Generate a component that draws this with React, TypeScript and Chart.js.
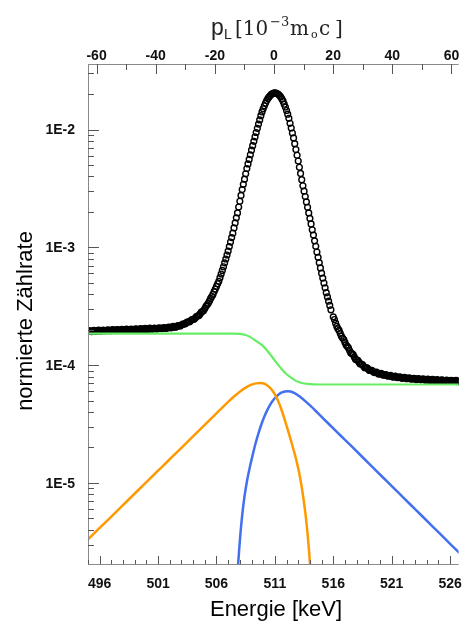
import React, { useEffect, useRef } from "react";
import { Chart, registerables } from "chart.js";

Chart.register(...registerables);

// ---- measured spectrum (black circles) ----
const dataEnergy = [
  495.0, 495.2, 495.4, 495.6, 495.8, 496.0, 496.2, 496.4, 496.6, 496.8,
  497.0, 497.2, 497.4, 497.6, 497.8, 498.0, 498.2, 498.4, 498.6, 498.8,
  499.0, 499.2, 499.4, 499.6, 499.8, 500.0, 500.2, 500.4, 500.6, 500.8,
  501.0, 501.2, 501.4, 501.6, 501.8, 502.0, 502.2, 502.4, 502.6, 502.8,
  503.0, 503.2, 503.4, 503.6, 503.8, 504.0, 504.2, 504.4, 504.6, 504.8,
  505.0, 505.2, 505.4, 505.6, 505.8,
  505.9, 506.0, 506.1, 506.2, 506.3, 506.4, 506.5, 506.6, 506.7, 506.8,
  506.9, 507.0, 507.1, 507.2, 507.3, 507.4, 507.5, 507.6, 507.7, 507.8,
  507.9, 508.0, 508.1, 508.2, 508.3, 508.4, 508.5, 508.6, 508.7, 508.8,
  508.9, 509.0, 509.1, 509.2, 509.3, 509.4, 509.5, 509.6, 509.7, 509.8,
  509.9, 510.0, 510.1, 510.2, 510.3, 510.4, 510.5, 510.6, 510.7, 510.8,
  510.9, 511.0, 511.1, 511.2, 511.3, 511.4, 511.5, 511.6, 511.7, 511.8,
  511.9, 512.0, 512.1, 512.2, 512.3, 512.4, 512.5, 512.6, 512.7, 512.8,
  512.9, 513.0, 513.1, 513.2, 513.3, 513.4, 513.5, 513.6, 513.7, 513.8,
  513.9, 514.0, 514.1, 514.2, 514.3, 514.4, 514.5, 514.6, 514.7, 514.8,
  514.9, 515.0, 515.1, 515.2, 515.3, 515.4, 515.5, 515.6, 515.7, 515.8,
  516.0, 516.2, 516.4, 516.6, 516.8, 517.0, 517.2, 517.4, 517.6, 517.8,
  518.0, 518.2, 518.4, 518.6, 518.8, 519.0, 519.2, 519.4, 519.6, 519.8,
  520.0, 520.2, 520.4, 520.6, 520.8, 521.0, 521.2, 521.4, 521.6, 521.8,
  522.0, 522.2, 522.4, 522.6, 522.8, 523.0, 523.2, 523.4, 523.6, 523.8,
  524.0, 524.2, 524.4, 524.6, 524.8, 525.0, 525.2, 525.4, 525.6, 525.8,
  526.0, 526.2, 526.4, 526.6, 526.8, 527.0,
];
const dataRate = [
  1.94e-4, 1.94e-4, 1.95e-4, 1.95e-4, 1.95e-4, 1.96e-4, 1.96e-4, 1.96e-4, 1.97e-4, 1.97e-4,
  1.97e-4, 1.98e-4, 1.98e-4, 1.98e-4, 1.99e-4, 1.99e-4, 1.99e-4, 2.0e-4, 2.0e-4, 2.0e-4,
  2.01e-4, 2.01e-4, 2.01e-4, 2.02e-4, 2.02e-4, 2.03e-4, 2.03e-4, 2.04e-4, 2.04e-4, 2.04e-4,
  2.05e-4, 2.05e-4, 2.06e-4, 2.06e-4, 2.07e-4, 2.09e-4, 2.1e-4, 2.11e-4, 2.13e-4, 2.16e-4,
  2.19e-4, 2.23e-4, 2.28e-4, 2.33e-4, 2.39e-4, 2.45e-4, 2.52e-4, 2.61e-4, 2.72e-4, 2.85e-4,
  3.02e-4, 3.25e-4, 3.51e-4, 3.82e-4, 4.21e-4,
  4.43e-4, 4.66e-4, 4.9e-4, 5.15e-4, 5.53e-4, 5.93e-4, 6.37e-4, 6.84e-4, 7.38e-4, 7.96e-4,
  8.61e-4, 9.29e-4, 1.014e-3, 1.109e-3, 1.21e-3, 1.32e-3, 1.46e-3, 1.61e-3, 1.78e-3, 1.96e-3,
  2.2e-3, 2.46e-3, 2.76e-3, 3.09e-3, 3.43e-3, 3.79e-3, 4.21e-3, 4.67e-3, 5.11e-3, 5.58e-3,
  6.11e-3, 6.68e-3, 7.29e-3, 7.94e-3, 8.66e-3, 9.44e-3, 1.024e-2, 1.112e-2, 1.206e-2, 1.31e-2,
  1.41e-2, 1.5e-2, 1.59e-2, 1.68e-2, 1.76e-2, 1.83e-2, 1.89e-2, 1.945e-2, 1.99e-2, 2.02e-2,
  2.04e-2, 2.046e-2, 2.04e-2, 2.02e-2, 1.99e-2, 1.945e-2, 1.89e-2, 1.82e-2, 1.74e-2, 1.64e-2,
  1.55e-2, 1.45e-2, 1.35e-2, 1.245e-2, 1.13e-2, 1.03e-2, 9.34e-3, 8.49e-3, 7.59e-3, 6.76e-3,
  6.04e-3, 5.4e-3, 4.78e-3, 4.24e-3, 3.75e-3, 3.33e-3, 3.0e-3, 2.7e-3, 2.43e-3, 2.19e-3,
  1.96e-3, 1.76e-3, 1.58e-3, 1.41e-3, 1.27e-3, 1.135e-3, 1.02e-3, 9.12e-4, 8.22e-4, 7.41e-4,
  6.68e-4, 6.03e-4, 5.48e-4, 4.98e-4, 4.53e-4, 4.12e-4, 3.79e-4, 3.49e-4, 3.21e-4, 2.95e-4,
  2.57e-4, 2.27e-4, 2.04e-4, 1.86e-4, 1.7e-4, 1.56e-4, 1.44e-4, 1.33e-4, 1.25e-4, 1.175e-4,
  1.11e-4, 1.06e-4, 1.02e-4, 9.77e-5, 9.48e-5, 9.23e-5, 9.02e-5, 8.81e-5, 8.67e-5, 8.53e-5,
  8.43e-5, 8.36e-5, 8.26e-5, 8.18e-5, 8.11e-5, 8.04e-5, 7.98e-5, 7.93e-5, 7.89e-5, 7.83e-5,
  7.8e-5, 7.76e-5, 7.73e-5, 7.69e-5, 7.66e-5, 7.64e-5, 7.62e-5, 7.59e-5, 7.57e-5, 7.55e-5,
  7.53e-5, 7.51e-5, 7.5e-5, 7.48e-5, 7.45e-5, 7.44e-5, 7.42e-5, 7.41e-5, 7.39e-5, 7.38e-5,
  7.36e-5, 7.35e-5, 7.34e-5, 7.33e-5, 7.32e-5, 7.31e-5,
];
// intermediate channels in the flat wings
const wingEnergy = [
  495.1, 495.3, 495.5, 495.7, 495.9, 496.1, 496.3, 496.5, 496.7, 496.9,
  497.1, 497.3, 497.5, 497.7, 497.9, 498.1, 498.3, 498.5, 498.7, 498.9,
  499.1, 499.3, 499.5, 499.7, 499.9, 500.1, 500.3, 500.5, 500.7, 500.9,
  501.1, 501.3, 501.5, 501.7, 501.9, 502.1, 502.3, 502.5, 502.7, 502.9,
  503.1, 503.3, 503.5, 503.7, 503.9, 504.1, 504.3, 504.5, 504.7, 504.9,
  505.1, 505.3, 505.5, 505.7,
  516.1, 516.3, 516.5, 516.7, 516.9, 517.1, 517.3, 517.5, 517.7, 517.9,
  518.1, 518.3, 518.5, 518.7, 518.9, 519.1, 519.3, 519.5, 519.7, 519.9,
  520.1, 520.3, 520.5, 520.7, 520.9, 521.1, 521.3, 521.5, 521.7, 521.9,
  522.1, 522.3, 522.5, 522.7, 522.9, 523.1, 523.3, 523.5, 523.7, 523.9,
  524.1, 524.3, 524.5, 524.7, 524.9, 525.1, 525.3, 525.5, 525.7, 525.9,
  526.1, 526.3, 526.5, 526.7, 526.9,
];
const wingRate = [
  1.96e-4, 1.92e-4, 1.97e-4, 1.93e-4, 1.98e-4, 1.94e-4, 1.98e-4, 1.95e-4, 1.99e-4, 1.95e-4,
  2.0e-4, 1.96e-4, 2.0e-4, 1.97e-4, 2.01e-4, 1.97e-4, 2.02e-4, 1.98e-4, 2.02e-4, 1.99e-4,
  2.03e-4, 1.99e-4, 2.04e-4, 2.0e-4, 2.05e-4, 2.01e-4, 2.06e-4, 2.02e-4, 2.06e-4, 2.03e-4,
  2.07e-4, 2.04e-4, 2.08e-4, 2.05e-4, 2.1e-4, 2.07e-4, 2.13e-4, 2.1e-4, 2.17e-4, 2.15e-4,
  2.23e-4, 2.23e-4, 2.32e-4, 2.34e-4, 2.44e-4, 2.46e-4, 2.59e-4, 2.64e-4, 2.82e-4, 2.91e-4,
  3.16e-4, 3.36e-4, 3.68e-4, 3.98e-4,
  2.44e-4, 2.13e-4, 1.97e-4, 1.76e-4, 1.65e-4, 1.48e-4, 1.4e-4, 1.27e-4, 1.23e-4, 1.12e-4,
  1.1e-4, 1.02e-4, 1.01e-4, 9.5e-5, 9.47e-5, 9.02e-5, 9.03e-5, 8.64e-5, 8.71e-5, 8.38e-5,
  8.51e-5, 8.21e-5, 8.33e-5, 8.05e-5, 8.19e-5, 7.92e-5, 8.06e-5, 7.82e-5, 7.96e-5, 7.73e-5,
  7.87e-5, 7.66e-5, 7.8e-5, 7.59e-5, 7.74e-5, 7.54e-5, 7.7e-5, 7.5e-5, 7.65e-5, 7.45e-5,
  7.61e-5, 7.42e-5, 7.58e-5, 7.38e-5, 7.53e-5, 7.35e-5, 7.5e-5, 7.32e-5, 7.46e-5, 7.29e-5,
  7.44e-5, 7.26e-5, 7.41e-5, 7.24e-5, 7.39e-5,
];

// ---- background step (green) ----
const stepEnergy = [494.8, 507.3, 508.0, 508.5, 508.9, 509.4, 510.0, 510.6, 511.2, 511.8, 512.3, 512.8, 513.3, 513.8, 514.3, 515.3, 527.3];
const stepRate = [1.85e-4, 1.85e-4, 1.84e-4, 1.8e-4, 1.73e-4, 1.6e-4, 1.45e-4, 1.23e-4, 1.03e-4, 8.75e-5, 7.93e-5, 7.35e-5, 7.05e-5, 6.92e-5, 6.87e-5, 6.85e-5, 6.85e-5];

// ---- component 1 (orange) ----
const orangeEnergy = [
  494.8, 495.8, 496.8, 497.8, 498.8, 499.8, 500.8, 501.8, 502.8, 503.8, 504.8, 505.8, 506.5,
  507.0, 507.5, 508.0, 508.5, 509.0, 509.4, 509.8, 510.05, 510.3, 510.55, 510.8, 511.05, 511.3,
  511.55, 511.8, 512.05, 512.3, 512.55, 512.7, 512.85, 513.0, 513.15, 513.3, 513.45, 513.6,
  513.75, 513.85, 513.95, 514.05, 514.15,
];
const orangeRate = [
  3.17e-6, 3.97e-6, 4.96e-6, 6.21e-6, 7.77e-6, 9.72e-6, 1.216e-5, 1.52e-5, 1.9e-5, 2.38e-5, 2.98e-5, 3.72e-5, 4.36e-5,
  4.87e-5, 5.41e-5, 5.95e-5, 6.44e-5, 6.82e-5, 7.0e-5, 7.05e-5, 6.98e-5, 6.79e-5, 6.48e-5, 6.07e-5, 5.54e-5, 4.9e-5,
  4.22e-5, 3.55e-5, 2.95e-5, 2.43e-5, 1.99e-5, 1.76e-5, 1.54e-5, 1.33e-5, 1.12e-5, 9.2e-6, 7.31e-6, 5.64e-6,
  4.15e-6, 3.26e-6, 2.46e-6, 1.75e-6, 1.17e-6,
];

// ---- component 2 (blue) ----
const blueEnergy = [
  507.75, 507.85, 507.95, 508.05, 508.2, 508.4, 508.6, 508.85, 509.1, 509.35, 509.6, 509.85,
  510.1, 510.35, 510.6, 510.85, 511.1, 511.35, 511.6, 511.85, 512.1, 512.35, 512.6, 512.85,
  513.1, 513.6, 514.1, 514.6, 515.6, 516.6, 517.6, 518.6, 519.6, 520.6, 521.6, 522.6, 523.6,
  524.6, 525.6, 526.6, 527.3,
];
const blueRate = [
  1.41e-6, 2.02e-6, 2.78e-6, 3.69e-6, 5.29e-6, 7.7e-6, 1.02e-5, 1.35e-5, 1.73e-5, 2.17e-5, 2.65e-5, 3.15e-5,
  3.66e-5, 4.15e-5, 4.62e-5, 5.03e-5, 5.38e-5, 5.66e-5, 5.86e-5, 5.97e-5, 6.01e-5, 5.97e-5, 5.84e-5, 5.66e-5,
  5.44e-5, 4.95e-5, 4.46e-5, 3.99e-5, 3.18e-5, 2.54e-5, 2.03e-5, 1.62e-5, 1.29e-5, 1.03e-5, 8.22e-6, 6.56e-6, 5.24e-6,
  4.18e-6, 3.33e-6, 2.66e-6, 2.27e-6,
];

// ---- axes ----
const xTickValues = [496, 501, 506, 511, 516, 521, 526];
const xTickLabels = ["496", "501", "506", "511", "516", "521", "526"];
const topTickValues = [-60, -40, -20, 0, 20, 40, 60];
const topTickLabels = ["-60", "-40", "-20", "0", "20", "40", "60"];
const yTickValues = [1e-5, 1e-4, 1e-3, 1e-2];
const yTickLabels = ["1E-5", "1E-4", "1E-3", "1E-2"];

const xTitle = "Energie [keV]";
const yTitle = "normierte Zählrate";

const SANS = "'Liberation Sans', Arial, sans-serif";
const SERIF = "'DejaVu Serif', serif";

const axesPlugin = {
  id: "customAxes",
  afterDraw(chart: any) {
    const { ctx, chartArea: a, scales } = chart;
    const xs = scales.x;
    const ys = scales.y;
    const xt = scales.x2;
    ctx.save();

    // axis lines
    ctx.strokeStyle = "#8a8a8a";
    ctx.lineWidth = 1;
    ctx.beginPath();
    ctx.moveTo(a.left + 0.5, a.top);
    ctx.lineTo(a.left + 0.5, a.bottom + 1);
    ctx.moveTo(a.left, a.bottom + 0.5);
    ctx.lineTo(a.right, a.bottom + 0.5);
    ctx.moveTo(a.left, a.top + 0.5);
    ctx.lineTo(a.right, a.top + 0.5);
    ctx.stroke();

    // tick marks (pointing inward)
    ctx.strokeStyle = "#555";
    ctx.beginPath();
    for (let e = Math.ceil(xs.min); e <= xs.max; e++) {
      const px = Math.round(xs.getPixelForValue(e)) + 0.5;
      const len = xTickValues.includes(e) ? 8 : 4;
      ctx.moveTo(px, a.bottom);
      ctx.lineTo(px, a.bottom - len);
    }
    for (let p = Math.ceil(xt.min / 10) * 10; p <= xt.max; p += 10) {
      const px = Math.round(xt.getPixelForValue(p)) + 0.5;
      const len = p % 20 === 0 ? 10 : 6;
      ctx.moveTo(px, a.top);
      ctx.lineTo(px, a.top + len);
    }
    for (let d = -7; d <= -1; d++) {
      for (let k = 1; k <= 9; k++) {
        const v = k * Math.pow(10, d);
        if (v < ys.min || v > ys.max) continue;
        const py = Math.round(ys.getPixelForValue(v)) + 0.5;
        ctx.moveTo(a.left, py);
        ctx.lineTo(a.left + (k === 1 ? 11 : 6), py);
      }
    }
    ctx.stroke();

    // tick labels
    ctx.fillStyle = "#111";
    ctx.font = "bold 14px " + SANS;
    ctx.textAlign = "center";
    ctx.textBaseline = "alphabetic";
    xTickValues.forEach((v, i) => ctx.fillText(xTickLabels[i], xs.getPixelForValue(v), 588));
    topTickValues.forEach((v, i) => ctx.fillText(topTickLabels[i], xt.getPixelForValue(v), 60));
    ctx.textAlign = "right";
    ctx.textBaseline = "middle";
    yTickValues.forEach((v, i) => ctx.fillText(yTickLabels[i], a.left - 13, ys.getPixelForValue(v) + 1));

    // axis titles
    ctx.fillStyle = "#000";
    ctx.font = "22px " + SANS;
    ctx.textAlign = "center";
    ctx.textBaseline = "alphabetic";
    ctx.fillText(xTitle, 276, 616);
    ctx.save();
    ctx.translate(32, 321);
    ctx.rotate(-Math.PI / 2);
    ctx.fillText(yTitle, 0, 0);
    ctx.restore();

    // top title: p_L [10^-3 m_o c]
    const cx = 277;
    ctx.textAlign = "left";
    ctx.fillStyle = "#222";
    ctx.font = "23px " + SANS;
    ctx.fillText("p", cx - 66, 35);
    ctx.font = "14px " + SANS;
    ctx.fillText("L", cx - 53, 39);
    ctx.font = "20px " + SERIF;
    ctx.fillText("[10", cx - 42, 35);
    ctx.font = "13px " + SERIF;
    ctx.fillText("\u22123", cx - 7, 26);
    ctx.font = "20px " + SERIF;
    ctx.fillText("m", cx + 13, 35);
    ctx.font = "11px " + SERIF;
    ctx.fillText("o", cx + 34, 38);
    ctx.font = "20px " + SERIF;
    ctx.fillText("c", cx + 42, 35);
    ctx.fillText("]", cx + 58, 35);

    ctx.restore();
  },
};

export default function App() {
  const canvasRef = useRef<HTMLCanvasElement | null>(null);

  useEffect(() => {
    const canvas = canvasRef.current;
    if (!canvas) return;
    const toPts = (xs: number[], ys: number[]) => xs.map((x, i) => ({ x, y: ys[i] }));
    const chart = new Chart(canvas, {
      type: "scatter",
      data: {
        datasets: [
          {
            label: "Untergrund",
            data: toPts(stepEnergy, stepRate),
            showLine: true,
            borderColor: "#66ee66",
            borderWidth: 2.2,
            pointRadius: 0,
            cubicInterpolationMode: "monotone",
          },
          {
            label: "Komponente 1",
            data: toPts(orangeEnergy, orangeRate),
            showLine: true,
            borderColor: "#ff9900",
            borderWidth: 2.5,
            pointRadius: 0,
            cubicInterpolationMode: "monotone",
          },
          {
            label: "Komponente 2",
            data: toPts(blueEnergy, blueRate),
            showLine: true,
            borderColor: "#4470f0",
            borderWidth: 2.5,
            pointRadius: 0,
            cubicInterpolationMode: "monotone",
          },
          {
            label: "Messung",
            data: toPts(dataEnergy, dataRate).concat(toPts(wingEnergy, wingRate)),
            showLine: false,
            pointStyle: "circle",
            pointRadius: 2.9,
            pointBorderWidth: 1.4,
            pointBorderColor: "#000",
            pointBackgroundColor: "rgba(255,255,255,0)",
          },
        ],
      } as any,
      options: {
        animation: false,
        responsive: false,
        devicePixelRatio: 1,
        events: [],
        layout: { padding: { left: 88, top: 64, right: 0, bottom: 57 } },
        plugins: { legend: { display: false }, tooltip: { enabled: false }, title: { display: false } },
        scales: {
          x: { type: "linear", min: 495.0, max: 526.73, display: false },
          x2: { type: "linear", axis: "x", position: "top", min: -62.9, max: 62.43, display: false },
          y: { type: "logarithmic", min: 2.05e-6, max: 3.6e-2, display: false },
        },
      } as any,
      plugins: [axesPlugin],
    });
    return () => chart.destroy();
  }, []);

  return (
    <div style={{ position: "absolute", left: 0, top: 0, width: 464, height: 621, background: "#fff" }}>
      <canvas ref={canvasRef} width={464} height={621} style={{ display: "block" }} />
    </div>
  );
}
